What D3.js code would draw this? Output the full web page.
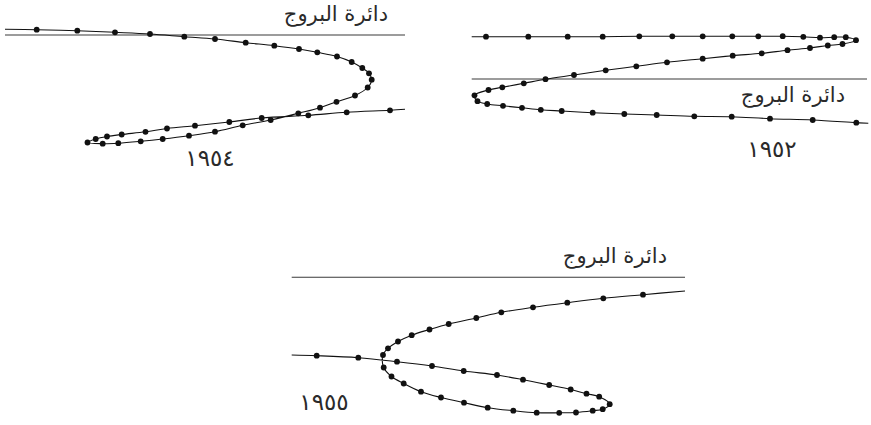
<!DOCTYPE html>
<html>
<head>
<meta charset="utf-8">
<script src="https://cdn.jsdelivr.net/npm/d3@7"></script>
<style>
  html, body { margin: 0; padding: 0; background: #fff; }
  svg { display: block; }
  text { font-family: "DejaVu Sans", sans-serif; fill: #2a2a2a; }
</style>
</head>
<body>
<svg id="chart" width="871" height="425"></svg>
<script>
// ---- data (x: position along the ecliptic, y: latitude relative to the ecliptic; arbitrary units) ----
const eclipticLabel = "دائرة البروج";
const years = ["١٩٥٤", "١٩٥٢", "١٩٥٥"];

// Panel 1954
const p1X = [31.7,72.3,110,145,179.3,210,240.7,269.3,294,312.3,332,346.7,357.3,364,366.7,362.7,350,331.5,315,293.3,265.7,237.7,210,184,157.7,135.7,113.3,97.7,82.5,90.7,102,116.7,140.5,162,190,224.3,256.7,303.3,341.7,385];
const p1Y = [5.3,4.3,2.7,1,-1.7,-4,-7.7,-10.7,-14,-17.3,-21.5,-27,-33,-38.3,-44.7,-52.5,-60.5,-66.8,-72.7,-78.3,-85,-90.3,-96.7,-100.7,-104,-106.3,-108.2,-108.7,-107.5,-104,-101.5,-99.5,-96.8,-93.5,-90.7,-87,-83,-80.3,-77.3,-75.3];
const p1Tail = { startX: 0, startY: 5.7, endX: 400, endY: -74.3 };

// Panel 1952
const p2X = [14.3,56.6,96,131,167.6,200.6,231,260.6,286.6,311,331.6,348.3,362.5,374.1,384.3,370.8,356.1,338.3,315.8,290,261,231,195.3,164.6,134,102.3,73.8,52.1,30.6,16.8,2.8,5.8,15.5,31.3,50.3,69.1,90,121,152.6,185,222.6,260,298.3,341,384.6];
const p2Y = [42.3,42.3,42.3,42.3,42.7,42.7,42.7,42.7,42.7,42.8,42.2,41.3,41.8,41.8,38.8,35,33.5,31,28.8,25.7,23.3,20.3,16.7,12.7,8.7,4,-0.2,-4.3,-8.3,-11,-16.3,-22.2,-25,-26.8,-28.8,-30.8,-32,-33.7,-35,-36,-37.3,-37.7,-39.7,-41,-43.7];
const p2Tail = { startX: 0, startY: 42.3, endX: 396.6, endY: -44.3 };

// Panel 1955
const p3X = [25,66.6,105.3,140.3,172,205.3,231.3,257.5,279,294.8,307.5,318,311,301,284.3,267.5,245,221.6,196,172.3,149.3,129.3,112,99.8,92,91.3,96.3,106.3,120,137.8,157,184.6,209.6,241.3,275.6,311.6,351.3];
const p3Y = [-78.4,-80.4,-84.4,-88.7,-93.7,-97.7,-102.4,-107.7,-112.2,-116.4,-119.4,-126.9,-131.9,-133.4,-135.2,-135.5,-135.4,-133.4,-130.4,-125.4,-120.2,-114.4,-106.2,-99.2,-90.2,-77.7,-71,-64.2,-57.9,-52.2,-46.7,-40.7,-35,-30,-25.4,-21,-17.4];
const p3Tail = { startX: 0, startY: -77.7, endX: 393.3, endY: -13.7 };

// ---- layout ----
const panels = [
  { xs: p1X, ys: p1Y, tail: p1Tail, year: years[0], left: 5,     width: 400,   eclY: 35,
    labelX: 388, labelY: 21,  yearX: 210, yearY: 166 },
  { xs: p2X, ys: p2Y, tail: p2Tail, year: years[1], left: 471.7, width: 395.3, eclY: 79,
    labelX: 845, labelY: 102, yearX: 772, yearY: 157 },
  { xs: p3X, ys: p3Y, tail: p3Tail, year: years[2], left: 291.7, width: 393.3, eclY: 277.3,
    labelX: 667, labelY: 263, yearX: 324, yearY: 410 }
];

const svg = d3.select("#chart");

panels.forEach(p => {
  const g = svg.append("g");
  const x = d3.scaleLinear().domain([0, 400]).range([p.left, p.left + 400]);
  const y = d3.scaleLinear().domain([0, 1]).range([p.eclY, p.eclY - 1]);

  // ecliptic line
  g.append("line")
    .attr("x1", x(0)).attr("x2", x(p.width))
    .attr("y1", y(0)).attr("y2", y(0))
    .attr("stroke", "#3a3a3a").attr("stroke-width", 1.1);

  g.append("text")
    .attr("x", p.labelX).attr("y", p.labelY)
    .attr("text-anchor", "end")
    .attr("font-size", 21)
    .text(eclipticLabel);

  g.append("text")
    .attr("x", p.yearX).attr("y", p.yearY)
    .attr("text-anchor", "middle")
    .attr("font-size", 23)
    .attr("letter-spacing", 3.5)
    .text(p.year);

  const pts = p.xs.map((v, i) => [v, p.ys[i]]);
  const pathPts = [[p.tail.startX, p.tail.startY], ...pts, [p.tail.endX, p.tail.endY]];

  const line = d3.line()
    .x(d => x(d[0])).y(d => y(d[1]))
    .curve(d3.curveCatmullRom.alpha(0.5));

  g.append("path")
    .attr("d", line(pathPts))
    .attr("fill", "none")
    .attr("stroke", "#111")
    .attr("stroke-width", 1.1);

  g.selectAll("circle").data(pts).join("circle")
    .attr("cx", d => x(d[0])).attr("cy", d => y(d[1]))
    .attr("r", 2.9)
    .attr("fill", "#111");
});
</script>
</body>
</html>
